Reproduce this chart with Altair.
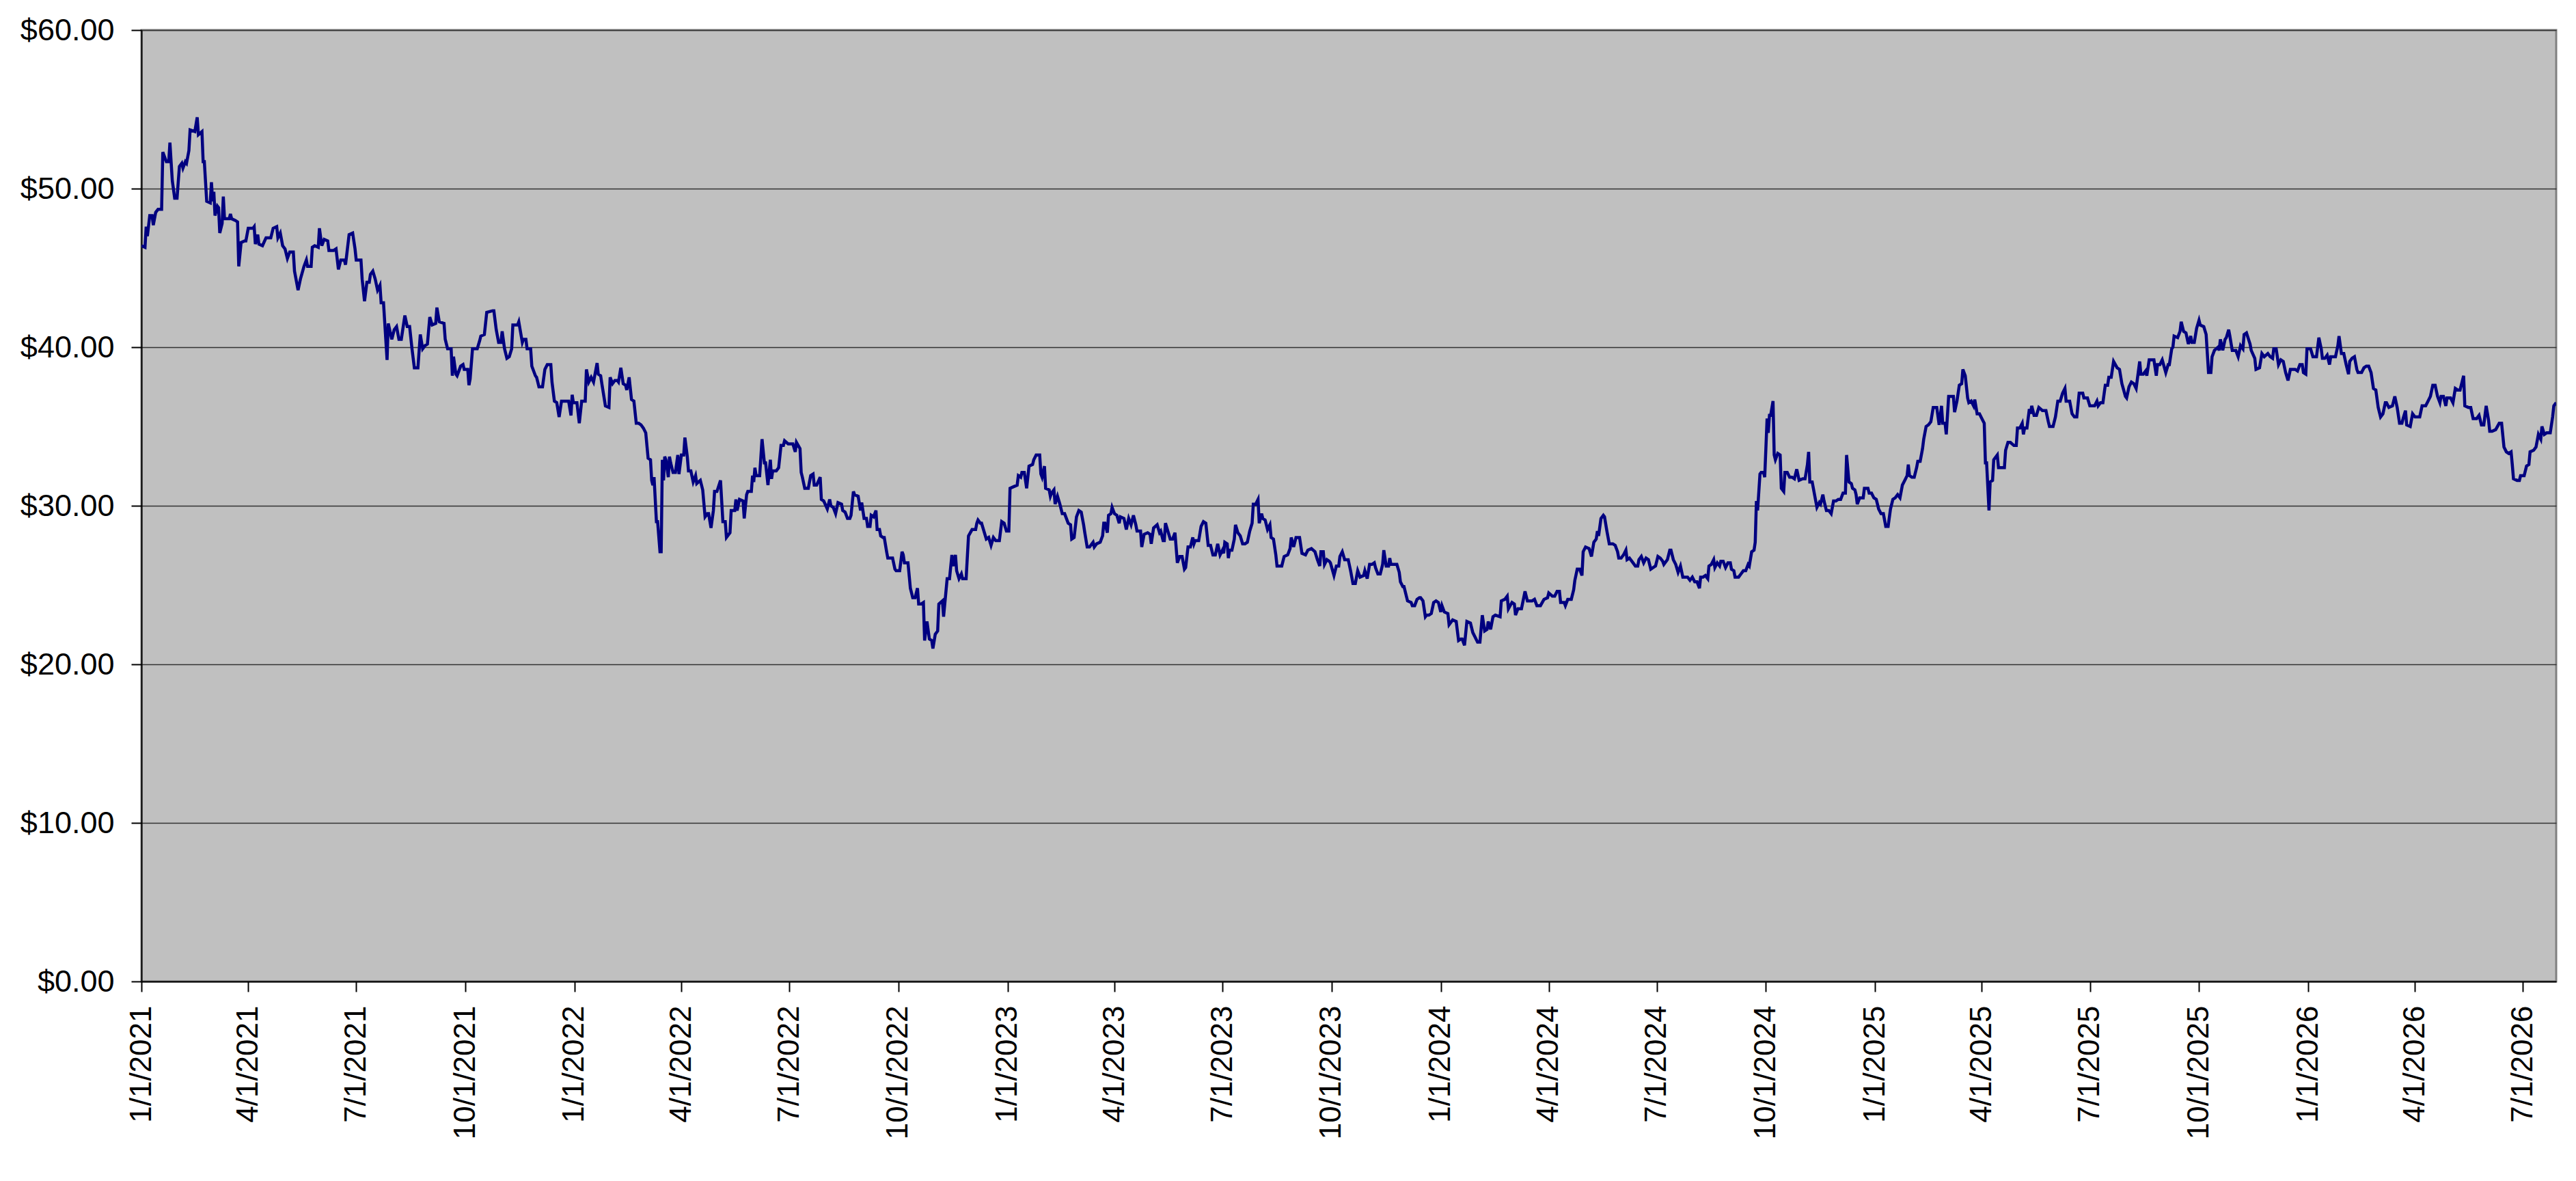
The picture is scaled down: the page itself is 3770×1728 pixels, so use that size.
import altair as alt
import pandas as pd

START = "2021-01-01"

# Segment 1 (2021)
days_a = [0, 3, 4, 5, 7, 9, 10, 12, 14, 17, 18, 21, 23, 24, 25, 26, 28, 30, 32, 34, 35, 37, 38, 40, 41, 45, 47, 48, 51, 52, 53, 55, 58, 59, 60, 61, 62, 64, 65, 66, 68, 69, 70, 74, 75, 76, 79, 81, 82, 84, 87, 88, 90, 94, 95, 96, 98, 99, 102, 105, 109, 111, 114, 115, 117, 119, 121, 123, 125, 128, 129, 132, 134, 137, 139, 140, 143, 144, 146, 149, 150, 152, 154, 157, 158, 162, 164, 166, 168, 171, 172, 175, 178, 180, 181, 185, 186, 188, 190, 192, 193, 195, 197, 199, 201, 202, 204, 207, 208, 211, 213, 215, 217, 219, 222, 224, 226, 228, 230, 233, 235, 237, 239, 241, 243, 245, 248, 249, 251, 255, 256, 258, 261, 262, 263, 265, 266, 269, 271, 272, 275, 276, 277, 279, 283, 285, 286, 289, 291, 296, 297, 299, 301, 303, 304, 306, 308, 310, 312, 313, 317, 318, 321, 322, 324, 325, 328, 329, 332, 333, 335, 338, 340, 342, 345, 346, 348, 350, 352, 354, 359]
price_a = [46.4, 46.3, 47.6, 47.0, 48.3, 48.3, 47.7, 48.5, 48.7, 48.7, 52.3, 51.7, 51.7, 52.9, 51.7, 50.5, 49.4, 49.4, 51.4, 51.6, 51.3, 51.7, 51.6, 52.4, 53.7, 53.6, 54.5, 53.4, 53.6, 51.7, 51.7, 49.2, 49.1, 50.4, 49.2, 49.8, 48.3, 48.9, 48.8, 47.2, 47.8, 49.5, 48.1, 48.1, 48.4, 48.1, 48.0, 47.9, 45.1, 46.6, 46.7, 46.7, 47.5, 47.5, 47.6, 46.5, 47.1, 46.5, 46.4, 46.9, 46.9, 47.5, 47.6, 46.9, 47.2, 46.4, 46.2, 45.6, 46.0, 46.0, 44.8, 43.6, 44.3, 45.1, 45.5, 45.1, 45.1, 46.3, 46.4, 46.3, 47.5, 46.4, 46.8, 46.7, 46.1, 46.1, 46.2, 44.9, 45.5, 45.5, 45.2, 47.1, 47.2, 46.2, 45.5, 45.5, 44.3, 42.9, 44.1, 44.1, 44.6, 44.8, 44.3, 43.6, 43.9, 42.8, 42.8, 39.2, 41.5, 40.5, 41.1, 41.3, 40.5, 40.5, 42.0, 41.3, 41.3, 39.9, 38.7, 38.7, 40.8, 39.9, 40.1, 40.2, 41.9, 41.4, 41.5, 42.5, 41.6, 41.5, 40.5, 39.9, 39.9, 38.2, 39.4, 38.3, 38.2, 38.8, 38.9, 38.6, 38.6, 37.6, 38.0, 39.9, 39.9, 40.4, 40.7, 40.8, 42.2, 42.3, 42.3, 41.1, 40.3, 40.3, 41.0, 39.9, 39.3, 39.4, 39.9, 41.4, 41.4, 41.6, 40.3, 40.5, 40.5, 39.9, 39.9, 38.8, 38.2, 38.1, 37.5, 37.5, 38.6, 38.9, 38.9, 37.8, 36.6, 36.5, 35.6, 36.6, 36.6]

# Segment 2 (2022)
days_b = [360, 362, 363, 364, 367, 369, 371, 374, 375, 377, 379, 381, 384, 385, 387, 388, 391, 394, 395, 397, 399, 401, 402, 404, 406, 408, 409, 411, 413, 415, 417, 419, 421, 423, 425, 427, 429, 430, 431, 432, 434, 435, 437, 438, 439, 440, 441, 442, 444, 445, 446, 448, 450, 452, 453, 455, 457, 458, 460, 461, 463, 465, 467, 468, 471, 473, 475, 477, 478, 480, 482, 483, 485, 488, 490, 492, 493, 496, 497, 500, 501, 502, 504, 507, 508, 510, 511, 514, 515, 516, 517, 518, 521, 523, 525, 526, 528, 530, 531, 532, 535, 537, 539, 541, 542, 545, 549, 551, 552, 555, 556, 557, 559, 562, 564, 566, 567, 569, 572, 573, 575, 578, 580, 581, 583, 585, 587, 590, 591, 593, 595, 597, 598, 600, 601, 604, 606, 607, 609, 611, 612, 614, 615, 617, 619, 620, 622, 623, 625, 626, 628, 629, 631, 633, 635, 636, 639, 641, 642, 643, 646, 648, 650, 652, 654, 655, 657, 659, 660, 662, 664, 666, 667, 669, 671, 672, 675, 676, 679, 681, 683, 684, 686, 687, 689, 691, 692, 695, 697, 700, 703, 704, 705, 707, 708, 710, 712, 714, 716, 718, 720, 723, 725, 727]
price_b = [36.6, 35.7, 37.0, 36.5, 36.5, 35.2, 36.6, 36.6, 38.6, 37.8, 38.1, 37.8, 39.0, 38.3, 38.2, 37.7, 36.3, 36.2, 38.1, 37.7, 37.9, 37.9, 37.8, 38.7, 37.7, 37.6, 37.3, 38.1, 36.7, 36.6, 35.2, 35.2, 35.1, 34.9, 34.6, 33.0, 32.9, 31.6, 31.3, 31.8, 29.0, 29.0, 27.1, 27.1, 32.9, 31.6, 33.1, 32.9, 31.8, 33.1, 32.7, 32.1, 32.1, 33.2, 32.0, 33.2, 33.2, 34.3, 33.1, 32.2, 32.2, 31.5, 31.9, 31.4, 31.6, 31.0, 29.3, 29.5, 29.5, 28.6, 29.7, 30.9, 30.9, 31.6, 29.0, 29.0, 28.0, 28.3, 29.7, 29.7, 30.4, 29.7, 30.4, 30.3, 29.2, 30.7, 30.9, 30.9, 31.9, 31.5, 32.4, 31.9, 31.9, 34.2, 32.7, 32.7, 31.3, 32.9, 31.7, 32.2, 32.2, 32.4, 33.8, 33.8, 34.1, 33.9, 33.9, 33.4, 34.0, 33.6, 32.1, 31.8, 31.1, 31.1, 31.9, 32.0, 31.3, 31.3, 31.8, 30.4, 30.3, 29.8, 30.4, 30.0, 29.9, 29.5, 30.2, 30.1, 29.7, 29.6, 29.2, 29.2, 29.4, 30.9, 30.7, 30.6, 29.7, 30.2, 29.2, 29.2, 28.7, 28.7, 29.4, 29.3, 29.7, 28.5, 28.5, 28.1, 28.0, 28.0, 27.1, 26.7, 26.7, 26.7, 26.0, 25.9, 25.9, 27.1, 26.9, 26.4, 26.4, 24.8, 24.2, 24.2, 24.8, 23.8, 23.8, 23.9, 21.5, 22.7, 21.6, 21.5, 21.0, 21.9, 22.1, 23.8, 24.0, 23.0, 25.4, 25.4, 26.9, 26.2, 26.9, 25.9, 25.4, 25.7, 25.4, 25.4, 28.1, 28.5, 28.5, 28.9, 29.1, 28.9, 28.9, 28.4, 27.9, 28.0, 27.5, 28.0, 27.8, 27.8, 29.0, 28.9]

# Segment 3 (2023)
days_c = [729, 731, 732, 735, 738, 739, 741, 742, 744, 746, 748, 751, 752, 754, 757, 758, 759, 761, 762, 765, 766, 767, 769, 770, 772, 774, 776, 778, 781, 783, 784, 786, 788, 790, 792, 794, 795, 797, 799, 802, 803, 805, 808, 810, 811, 812, 814, 815, 817, 818, 820, 822, 824, 825, 828, 830, 832, 834, 836, 838, 839, 842, 843, 845, 848, 850, 851, 853, 856, 858, 859, 861, 862, 863, 865, 867, 869, 871, 873, 875, 877, 879, 880, 882, 884, 886, 887, 888, 891, 893, 895, 897, 899, 901, 903, 905, 907, 909, 911, 912, 913, 915, 916, 917, 919, 921, 922, 924, 926, 928, 930, 932, 934, 936, 937, 939, 941, 942, 944, 945, 947, 949, 951, 952, 954, 956, 957, 961, 963, 966, 968, 969, 971, 973, 976, 978, 981, 983, 986, 989, 991, 993, 994, 996, 997, 999, 1001, 1002, 1005, 1007, 1009, 1010, 1012, 1014, 1016, 1017, 1019, 1021, 1023, 1025, 1027, 1030, 1031, 1033, 1035, 1037, 1039, 1040, 1042, 1044, 1046, 1047, 1049, 1051, 1052, 1053, 1056, 1058, 1060, 1061, 1063, 1064, 1066, 1067, 1070, 1071, 1073, 1075, 1077, 1078, 1080, 1082, 1083, 1085, 1087, 1089, 1091, 1093, 1095]
price_c = [28.4, 28.4, 31.1, 31.2, 31.3, 31.9, 31.8, 32.1, 32.1, 31.1, 32.5, 32.6, 32.9, 33.2, 33.2, 32.0, 31.8, 32.5, 31.1, 31.0, 30.6, 30.8, 31.0, 30.1, 30.6, 30.1, 29.5, 29.5, 28.9, 28.8, 27.9, 28.0, 29.3, 29.7, 29.6, 28.8, 28.3, 27.4, 27.4, 27.7, 27.4, 27.6, 27.7, 28.1, 28.9, 28.9, 28.3, 29.4, 29.5, 29.9, 29.5, 29.4, 28.9, 29.3, 29.2, 28.5, 29.2, 28.8, 29.4, 28.8, 28.4, 28.4, 27.4, 28.2, 28.3, 28.2, 27.6, 28.6, 28.8, 28.3, 28.4, 27.8, 27.8, 28.9, 28.4, 27.9, 27.9, 28.3, 26.4, 26.8, 26.8, 26.0, 26.1, 27.4, 27.4, 28.0, 27.6, 27.8, 27.8, 28.7, 29.0, 28.9, 27.5, 27.5, 26.9, 26.9, 27.6, 26.9, 27.2, 27.0, 27.7, 27.6, 26.7, 27.2, 27.2, 27.9, 28.8, 28.3, 28.1, 27.6, 27.6, 27.7, 28.4, 28.9, 30.1, 30.1, 30.4, 28.9, 29.5, 29.2, 29.1, 28.5, 28.8, 28.0, 27.9, 26.9, 26.2, 26.2, 26.8, 26.9, 27.3, 28.0, 27.4, 28.0, 28.0, 27.0, 26.9, 27.2, 27.3, 27.1, 26.6, 26.2, 27.1, 27.1, 26.3, 26.6, 26.5, 26.4, 25.6, 26.2, 26.2, 26.8, 27.1, 26.6, 26.6, 26.6, 25.9, 25.1, 25.1, 25.9, 25.5, 25.6, 25.9, 25.4, 26.3, 26.3, 26.4, 26.1, 25.7, 25.7, 26.3, 27.2, 26.2, 26.2, 26.7, 26.3, 26.3, 26.3, 25.8, 25.2, 24.9, 24.9, 24.3, 24.0, 23.9, 23.7, 23.7, 24.1, 24.2, 24.2, 24.0, 23.0, 23.1, 23.1, 23.2, 23.9, 24.0, 23.9, 23.3]

# Segment 4 (2024)
days_d = [1096, 1098, 1101, 1102, 1105, 1108, 1110, 1112, 1113, 1115, 1117, 1120, 1122, 1124, 1126, 1128, 1130, 1132, 1134, 1135, 1137, 1139, 1141, 1145, 1146, 1149, 1151, 1152, 1155, 1157, 1158, 1160, 1163, 1166, 1168, 1172, 1174, 1176, 1179, 1182, 1185, 1186, 1189, 1191, 1193, 1195, 1196, 1199, 1200, 1202, 1205, 1207, 1208, 1210, 1212, 1214, 1215, 1217, 1220, 1222, 1224, 1226, 1227, 1228, 1230, 1232, 1233, 1235, 1237, 1240, 1242, 1244, 1245, 1247, 1249, 1251, 1252, 1254, 1256, 1259, 1261, 1262, 1264, 1266, 1268, 1270, 1272, 1274, 1276, 1278, 1280, 1282, 1283, 1286, 1288, 1289, 1291, 1293, 1295, 1297, 1299, 1301, 1303, 1305, 1307, 1309, 1311, 1313, 1314, 1316, 1318, 1320, 1321, 1323, 1325, 1326, 1328, 1330, 1331, 1333, 1335, 1337, 1339, 1340, 1342, 1343, 1346, 1348, 1350, 1352, 1354, 1355, 1357, 1359, 1360, 1361, 1362, 1364, 1365, 1367, 1368, 1370, 1371, 1372, 1373, 1375, 1376, 1377, 1379, 1381, 1382, 1384, 1385, 1387, 1389, 1391, 1393, 1395, 1397, 1400, 1402, 1404, 1405, 1406, 1408, 1411, 1412, 1414, 1415, 1417, 1418, 1420, 1422, 1424, 1426, 1428, 1430, 1432, 1434, 1436, 1437, 1439, 1441, 1442, 1444, 1445, 1446, 1448, 1451, 1452, 1455, 1456, 1458, 1460, 1462, 1464]
price_d = [23.7, 23.3, 23.2, 22.5, 22.8, 22.7, 21.5, 21.6, 21.6, 21.2, 22.7, 22.6, 22.0, 21.7, 21.4, 21.4, 23.1, 22.1, 22.2, 22.7, 22.2, 23.0, 23.1, 23.0, 24.0, 24.1, 24.3, 23.5, 23.9, 23.8, 23.1, 23.5, 23.5, 24.6, 24.0, 24.0, 24.1, 23.7, 23.7, 24.1, 24.2, 24.5, 24.3, 24.3, 24.6, 24.6, 23.9, 23.9, 23.7, 24.1, 24.1, 24.7, 25.3, 26.0, 26.0, 25.6, 27.1, 27.4, 27.3, 26.8, 27.7, 27.9, 28.4, 28.1, 29.2, 29.4, 29.3, 28.4, 27.6, 27.6, 27.5, 27.1, 26.7, 26.7, 26.9, 27.2, 26.6, 26.7, 26.5, 26.2, 26.2, 26.6, 26.8, 26.4, 26.7, 26.6, 26.0, 26.1, 26.2, 26.8, 26.7, 26.5, 26.3, 26.6, 27.2, 27.2, 26.6, 26.3, 25.8, 26.2, 25.5, 25.5, 25.5, 25.3, 25.5, 25.2, 25.2, 24.8, 25.5, 25.5, 25.6, 25.4, 26.2, 26.3, 26.6, 26.1, 26.4, 26.2, 26.5, 26.5, 26.1, 26.4, 26.4, 26.0, 25.9, 25.5, 25.5, 25.7, 25.9, 25.9, 26.3, 26.2, 27.1, 27.2, 27.7, 30.3, 29.7, 32.0, 32.1, 32.1, 31.8, 35.5, 34.6, 35.7, 35.7, 36.6, 33.2, 32.9, 33.3, 33.2, 31.1, 30.9, 32.1, 32.1, 31.8, 31.8, 31.7, 32.3, 31.6, 31.7, 31.7, 32.6, 33.4, 31.5, 31.5, 30.3, 29.9, 30.2, 30.1, 30.7, 30.3, 29.7, 29.7, 29.5, 30.3, 30.3, 30.4, 30.4, 30.8, 30.8, 33.2, 31.5, 31.4, 31.1, 31.0, 30.7, 30.1, 30.5, 30.5, 31.1, 31.1, 30.8, 30.8, 30.5, 30.4, 29.8]

# Segment 5 (2025)
days_e = [1466, 1468, 1470, 1472, 1474, 1476, 1478, 1480, 1482, 1484, 1486, 1488, 1489, 1490, 1492, 1494, 1496, 1497, 1499, 1501, 1502, 1504, 1506, 1508, 1510, 1513, 1515, 1517, 1518, 1520, 1521, 1523, 1527, 1528, 1530, 1532, 1534, 1535, 1537, 1539, 1540, 1542, 1544, 1545, 1547, 1549, 1551, 1553, 1554, 1555, 1557, 1558, 1560, 1561, 1562, 1564, 1565, 1570, 1571, 1573, 1575, 1578, 1580, 1581, 1583, 1585, 1586, 1587, 1589, 1591, 1592, 1593, 1595, 1597, 1599, 1602, 1605, 1607, 1608, 1611, 1613, 1615, 1617, 1619, 1621, 1622, 1625, 1627, 1629, 1631, 1633, 1636, 1637, 1640, 1642, 1646, 1648, 1649, 1651, 1653, 1655, 1657, 1658, 1660, 1662, 1665, 1667, 1669, 1672, 1673, 1675, 1677, 1679, 1681, 1684, 1685, 1687, 1689, 1690, 1692, 1696, 1698, 1699, 1701, 1703, 1706, 1708, 1709, 1711, 1712, 1713, 1716, 1718, 1719, 1721, 1723, 1725, 1727, 1728, 1730, 1732, 1734, 1735, 1738, 1740, 1741, 1742, 1744, 1745, 1747, 1750, 1751, 1752, 1754, 1756, 1757, 1759, 1760, 1762, 1765, 1767, 1769, 1771, 1772, 1774, 1777, 1778, 1781, 1782, 1785, 1787, 1789, 1792, 1794, 1796, 1797, 1799, 1801, 1803, 1805, 1807, 1809, 1811, 1815, 1817, 1819, 1821, 1822, 1824, 1825, 1828, 1830, 1833]
price_e = [29.5, 29.5, 28.7, 28.7, 29.8, 30.4, 30.5, 30.7, 30.5, 31.3, 31.6, 31.9, 32.6, 31.9, 31.8, 31.8, 32.4, 32.8, 32.8, 33.6, 34.2, 35.0, 35.1, 35.3, 36.2, 36.2, 35.1, 36.3, 35.2, 35.2, 34.5, 36.9, 36.9, 35.9, 36.6, 37.6, 37.7, 38.6, 38.2, 36.8, 36.5, 36.6, 36.3, 36.7, 35.8, 35.8, 35.5, 35.2, 32.7, 32.7, 29.7, 31.5, 31.6, 32.9, 33.0, 33.2, 32.4, 32.4, 33.5, 34.0, 34.0, 33.8, 33.8, 34.9, 34.9, 35.2, 34.5, 34.9, 34.9, 36.1, 35.8, 36.3, 35.7, 35.7, 36.2, 36.0, 36.0, 35.3, 35.0, 35.0, 35.6, 36.6, 36.6, 37.1, 37.4, 36.6, 36.6, 35.8, 35.6, 35.6, 37.1, 37.1, 36.8, 36.8, 36.3, 36.3, 36.6, 36.3, 36.5, 36.5, 37.6, 37.6, 38.1, 38.1, 39.1, 38.7, 38.6, 37.7, 36.9, 36.8, 37.5, 37.8, 37.7, 37.4, 39.1, 38.3, 38.3, 38.5, 38.2, 39.2, 39.2, 38.2, 38.9, 38.9, 39.2, 38.4, 38.9, 38.9, 39.9, 40.0, 40.7, 40.6, 41.0, 41.6, 41.0, 40.9, 40.2, 40.7, 40.3, 40.3, 41.2, 41.7, 41.4, 41.3, 40.8, 39.6, 38.4, 38.4, 39.4, 39.8, 40.0, 39.8, 40.5, 39.8, 40.5, 40.6, 41.1, 40.7, 39.8, 39.8, 39.4, 40.1, 39.9, 40.8, 40.9, 40.2, 39.8, 39.3, 38.6, 38.7, 39.6, 39.4, 39.6, 39.4, 39.3, 39.9, 39.9, 38.9, 39.2, 39.1, 38.4, 37.9, 38.6, 38.6, 38.5, 38.9, 38.9, 38.4, 38.3, 39.9, 39.9, 39.4, 39.4]

# Segment 6 (2026)
days_f = [1835, 1837, 1838, 1840, 1842, 1844, 1845, 1849, 1851, 1852, 1854, 1856, 1858, 1860, 1861, 1863, 1865, 1867, 1868, 1871, 1873, 1875, 1877, 1879, 1881, 1883, 1885, 1887, 1889, 1891, 1892, 1894, 1897, 1899, 1901, 1903, 1905, 1906, 1908, 1909, 1912, 1914, 1916, 1920, 1922, 1925, 1927, 1929, 1931, 1933, 1935, 1937, 1938, 1940, 1942, 1943, 1946, 1948, 1950, 1952, 1954, 1957, 1958, 1961, 1963, 1965, 1968, 1970, 1972, 1974, 1976, 1978, 1979, 1981, 1984, 1987, 1989, 1991, 1993, 1995, 1997, 1998, 1999, 2002, 2004, 2005, 2008, 2010, 2012, 2013, 2016, 2018, 2020, 2022, 2023, 2025, 2027, 2030, 2032, 2033, 2035]
price_f = [40.6, 39.9, 39.3, 39.3, 39.5, 38.9, 39.4, 39.4, 40.1, 40.7, 39.6, 39.6, 38.9, 38.3, 39.1, 39.3, 39.4, 38.6, 38.4, 38.4, 38.7, 38.8, 38.8, 38.4, 37.4, 37.3, 36.2, 35.6, 35.8, 36.5, 36.5, 36.2, 36.3, 36.9, 36.2, 35.2, 35.2, 35.5, 36.0, 35.1, 35.0, 35.8, 35.6, 35.6, 36.3, 36.3, 36.6, 36.9, 37.6, 37.6, 36.9, 36.5, 36.9, 36.9, 36.3, 36.8, 36.8, 36.5, 37.4, 37.3, 37.3, 38.2, 36.3, 36.2, 36.2, 35.5, 35.5, 35.7, 35.1, 35.1, 36.3, 35.4, 34.7, 34.7, 34.8, 35.2, 35.2, 33.7, 33.4, 33.3, 33.4, 32.6, 31.7, 31.6, 31.6, 31.9, 31.9, 32.5, 32.6, 33.4, 33.5, 33.7, 34.5, 34.2, 35.0, 34.5, 34.6, 34.6, 35.6, 36.3, 36.5]

# Axis tick labels
y_ticks = [0, 10, 20, 30, 40, 50, 60]
x_tick_years = [2021, 2022, 2023, 2024, 2025, 2026]
x_tick_months = [1, 4, 7, 10]
x_last_tick = (2026, 7)

days = days_a + days_b + days_c + days_d + days_e + days_f
price = price_a + price_b + price_c + price_d + price_e + price_f

dates = (pd.Timestamp(START) + pd.to_timedelta(days, unit="D")).strftime("%Y-%m-%d")
df = pd.DataFrame({"date": list(dates), "price": price})

x_values = []
for yr in x_tick_years:
    for mo in x_tick_months:
        if (yr, mo) <= x_last_tick:
            x_values.append(alt.DateTime(year=yr, month=mo, date=1, utc=True))

first_date = dates[0]
last_date = dates[-1]

FONT = "Liberation Sans"

chart = (
    alt.Chart(df)
    .mark_line(color="#000080", strokeWidth=4.5, clip=True)
    .encode(
        x=alt.X(
            "date:T",
            scale=alt.Scale(type="utc", domain=[first_date, last_date], nice=False),
            axis=alt.Axis(
                values=x_values,
                format="%-m/%-d/%Y",
                labelAngle=270,
                labelFont=FONT,
                labelFontSize=44,
                labelColor="black",
                labelPadding=20,
                labelFlush=False,
                labelOverlap=False,
                labelLimit=0,
                tickSize=15,
                tickWidth=2,
                tickColor="black",
                domainColor="black",
                domainWidth=2,
                grid=False,
                title=None,
            ),
        ),
        y=alt.Y(
            "price:Q",
            scale=alt.Scale(domain=[0, 60], nice=False, zero=True),
            axis=alt.Axis(
                values=y_ticks,
                format="$.2f",
                labelFont=FONT,
                labelFontSize=45,
                labelColor="black",
                labelPadding=25,
                labelLimit=0,
                tickSize=15,
                tickWidth=2,
                tickColor="black",
                domainColor="black",
                domainWidth=2,
                grid=True,
                gridColor="#333333",
                gridWidth=1.5,
                title=None,
            ),
        ),
    )
    .properties(
        width=3534,
        height=1392,
        autosize=alt.AutoSizeParams(type="none"),
        padding={"left": 199, "top": 36, "right": 21, "bottom": 270},
        background="white",
    )
    .configure_view(fill="#C0C0C0", stroke="#808080", strokeWidth=3)
)

chart.save("out.html", embed_options={"renderer": "svg", "actions": False})
